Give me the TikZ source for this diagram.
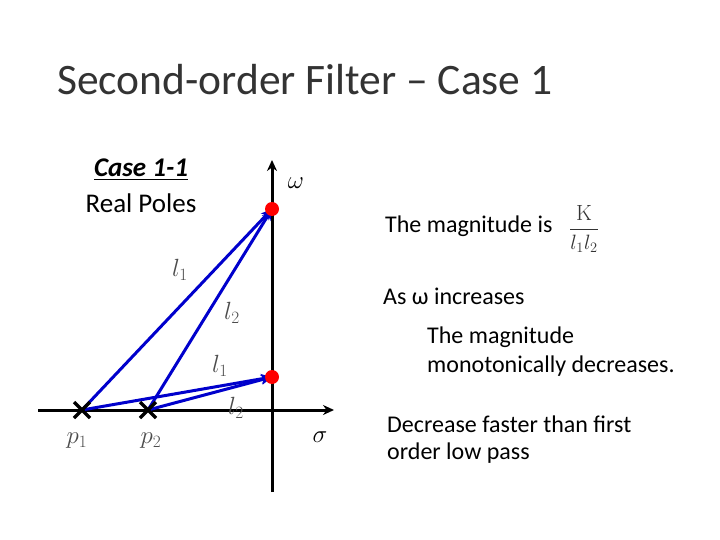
\documentclass[tikz,border=0pt]{standalone}
\usepackage{amsmath}
\usepackage{fontspec}
\setmainfont{Carlito}
\newfontfamily\serifm{Latin Modern Roman}
\usetikzlibrary{arrows.meta,calc}
\begin{document}
\begin{tikzpicture}[x=1pt,y=-1pt,
  txt/.style={anchor=west,inner sep=0pt,font=\fontsize{24}{28}\selectfont},
  vec/.style={draw=blue!80!black,line width=3pt,-{Stealth[length=11pt,width=10pt]}},
  lab/.style={font=\fontsize{24}{26}\selectfont,text=black!70,inner sep=0pt},
  pole/.style={line width=3.5pt}]
\useasboundingbox (0,0) rectangle (720,540);
\node[anchor=west,inner sep=0pt,font=\fontsize{43.5}{48}\selectfont,text=black!80] (title) at (57,80) {Second-order Filter -- Case 1};
\node[inner sep=0pt,font=\fontsize{27}{30}\selectfont\bfseries\itshape] (c11) at (141,170) {\underline{Case 1-1}};
\node[inner sep=0pt,font=\fontsize{27}{30}\selectfont] (rp) at (141,203) {Real Poles};
\coordinate (yb) at (272,492); \coordinate (yt) at (272,160);
\coordinate (xl) at (38,410); \coordinate (xr) at (334,410);
\draw[line width=3pt,-{Stealth[length=11pt,width=10pt]}] (yb) -- (yt);
\draw[line width=3pt,-{Stealth[length=11pt,width=10pt]}] (xl) -- (xr);
\node[lab,text=black] (w) at (296,183) {$\omega$};
\node[lab,text=black] (s) at (320,437) {$\sigma$};
\coordinate (p1) at (82,410); \coordinate (p2) at (148,410);
\coordinate (a) at (272,209); \coordinate (b) at (272,377);
\draw[vec] (p1) -- (a); \draw[vec] (p2) -- (a);
\draw[vec] (p1) -- (b); \draw[vec] (p2) -- (b);
\foreach \p in {p1,p2}{
  \draw[pole] ($(\p)+(-8,-8)$) -- ($(\p)+(8,8)$);
  \draw[pole] ($(\p)+(-8,8)$) -- ($(\p)+(8,-8)$);}
\fill[red] (a) circle (7);
\fill[red] (b) circle (7);
\node[lab] (pl1) at (77,441) {$p_1$};
\node[lab] (pl2) at (151,441) {$p_2$};
\node[lab] (l1a) at (180,270) {$l_1$};
\node[lab] (l2a) at (232,313) {$l_2$};
\node[lab] (l1b) at (220,366) {$l_1$};
\node[lab] (l2b) at (236,408) {$l_2$};
\node[txt] (m) at (385,226) {The magnitude is};
\node[inner sep=0pt,font=\fontsize{22}{24}\selectfont,text=black!80] (f) at (584,229) {$\dfrac{\hbox{\serifm K}}{l_1l_2}$};
\node[txt] (t1) at (383,296) {As ω increases};
\node[txt] (t2) at (427,337) {The magnitude};
\node[txt] (t3) at (427,366) {monotonically decreases.};
\node[txt] (t4) at (387,424) {Decrease faster than first};
\node[txt] (t5) at (387,453) {order low pass};
\end{tikzpicture}
\end{document}
